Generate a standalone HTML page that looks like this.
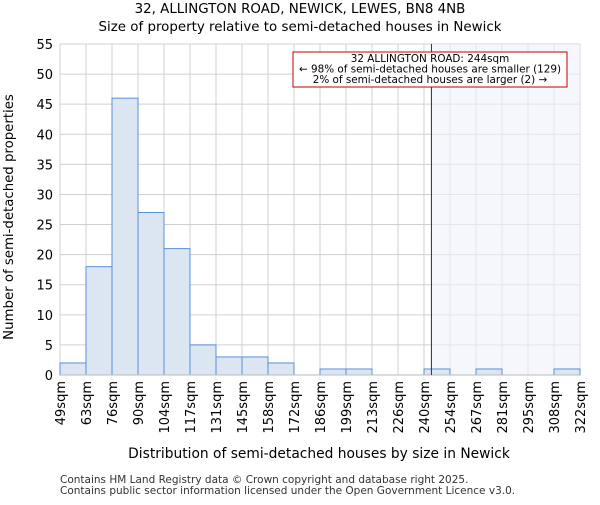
<!DOCTYPE html>
<html><head><meta charset="utf-8"><style>body{margin:0;background:#fff}svg{font-family:"DejaVu Sans","Liberation Sans",sans-serif}</style></head>
<body>
<svg id="c" width="600" height="500" xmlns="http://www.w3.org/2000/svg">
<text x="300" y="13" text-anchor="middle" font-size="13.4">32, ALLINGTON ROAD, NEWICK, LEWES, BN8 4NB</text>
<text x="300" y="31" text-anchor="middle" font-size="13.4">Size of property relative to semi-detached houses in Newick</text>
<g id="grid"></g><g id="hl"></g><g id="bars"></g><g id="axes"></g>
<text x="319" y="458" text-anchor="middle" font-size="13.8">Distribution of semi-detached houses by size in Newick</text>
<text transform="translate(13,217) rotate(-90)" text-anchor="middle" font-size="13.3">Number of semi-detached properties</text>
<text x="60" y="483" font-size="10.5" fill="#333">Contains HM Land Registry data © Crown copyright and database right 2025.</text>
<text x="60" y="494" font-size="10.5" fill="#333">Contains public sector information licensed under the Open Government Licence v3.0.</text>
</svg>
<script>
const categories=["49sqm","63sqm","76sqm","90sqm","104sqm","117sqm","131sqm","145sqm","158sqm","172sqm","186sqm","199sqm","213sqm","226sqm","240sqm","254sqm","267sqm","281sqm","295sqm","308sqm","322sqm"];
const counts=[2,18,46,27,21,5,3,3,2,0,1,1,0,0,1,0,1,0,0,1];
const yTicks=[0,5,10,15,20,25,30,35,40,45,50,55];
const binStart=49, binWidth=13.65, subjectSize=244;
const X0=60,X1=580,Y0=375,Y1=44,YMAX=55;
const NS="http://www.w3.org/2000/svg";
const bw=(X1-X0)/counts.length;
const x=i=>X0+i*bw, y=v=>Y0-(Y0-Y1)*v/YMAX;
const xv=s=>X0+(s-binStart)/binWidth*bw;
function mk(p,t,a){const e=document.createElementNS(NS,t);for(const k in a)e.setAttribute(k,a[k]);document.getElementById(p).appendChild(e);return e;}
yTicks.forEach(t=>{
 const l=mk("grid","line",{x1:X0,x2:X1,y1:y(t),y2:y(t),stroke:"#d0d0d0"});
 
 
 const tx=mk("axes","text",{x:X0-7,y:y(t)+5,"text-anchor":"end","font-size":"13"});tx.textContent=t;
 
 
});
categories.forEach((c,i)=>{
 const l=mk("grid","line",{x1:x(i),x2:x(i),y1:Y1,y2:Y0,stroke:"#d0d0d0"});
 
 
 const tx=mk("axes","text",{transform:`translate(${x(i)+5},381) rotate(-90)`,"text-anchor":"end","font-size":"13"});tx.textContent=c;
 
 
});
const sx=xv(subjectSize);
const h=mk("hl","rect",{x:sx,y:Y1,width:X1-sx,height:Y0-Y1,fill:"#eef2fb",opacity:"0.6"});


counts.forEach((v,i)=>{
 const r=mk("bars","rect",{x:x(i),y:y(v),width:bw,height:Y0-y(v),fill:"#dce6f3",stroke:"#5a8fd8","stroke-width":"1"});
 
 
});
const ax=mk("axes","line",{x1:X0,x2:X1,y1:Y0,y2:Y0,stroke:"#bbb"});


const vl=mk("axes","line",{x1:sx,x2:sx,y1:Y1,y2:Y0,stroke:"#5a2020","stroke-width":"1"});


const bx=mk("axes","rect",{x:293,y:52,width:274,height:35,fill:"#fff",stroke:"#c00000","stroke-width":"1"});


["32 ALLINGTON ROAD: 244sqm","← 98% of semi-detached houses are smaller (129)","2% of semi-detached houses are larger (2) →"].forEach((s,i)=>{
 const t=mk("axes","text",{x:430,y:62+i*10.5,"text-anchor":"middle","font-size":"10.4"});t.textContent=s;
 
 
});
</script>
</body></html>
